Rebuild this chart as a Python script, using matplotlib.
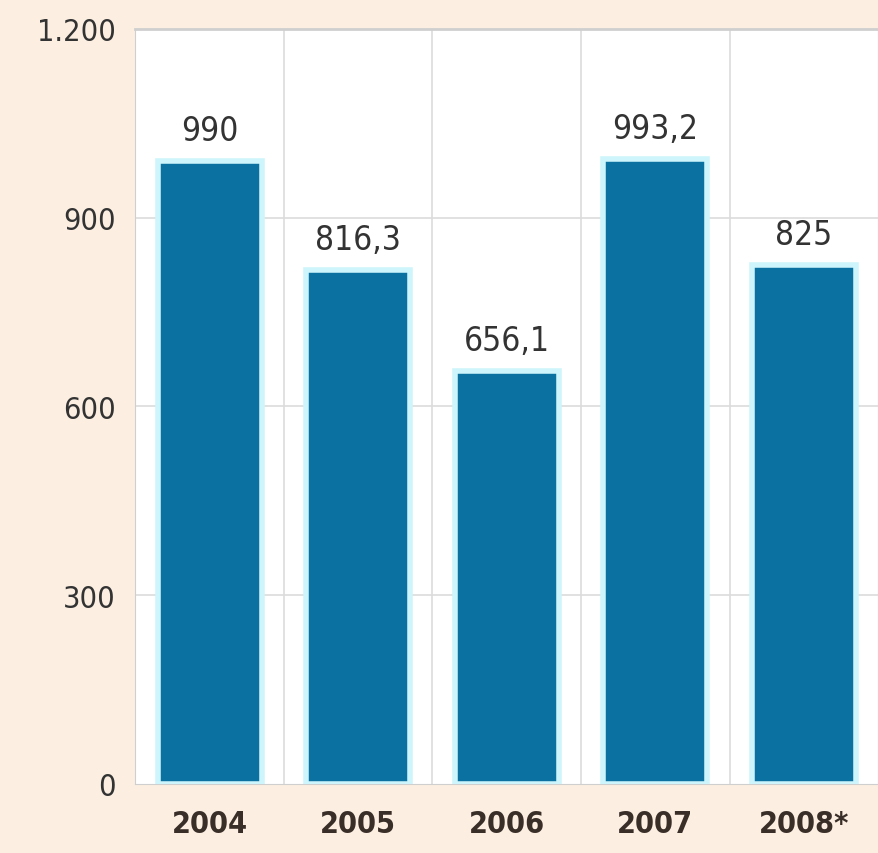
import matplotlib
matplotlib.use("Agg")
import matplotlib.pyplot as plt

# dati del grafico
anni = ["2004", "2005", "2006", "2007", "2008*"]
valori = [990, 816.3, 656.1, 993.2, 825]
etichette = ["990", "816,3", "656,1", "993,2", "825"]
yticks = [0, 300, 600, 900, 1200]
ytick_lab = ["0", "300", "600", "900", "1.200"]

plt.rcParams["font.family"] = ["DejaVu Sans"]
plt.rcParams["font.stretch"] = "condensed"

fig = plt.figure(figsize=(8.79, 8.54), dpi=100, facecolor="#fcefe2")
ax = fig.add_axes([0.154, 0.081, 0.845, 0.884])
ax.set_facecolor("white")

x = range(len(anni))
ax.bar(x, valori, width=0.70, color="#0b71a0", edgecolor="#cdf5fb",
       linewidth=4, zorder=3)

# etichette dei valori sopra le barre
for i, v in enumerate(valori):
    ax.text(i, v + 22, etichette[i], ha="center", va="bottom",
            fontsize=24, color="#333333", zorder=4)

ax.set_xlim(-0.5, 4.5)
ax.set_ylim(0, 1200)
ax.set_yticks(yticks)
ax.set_yticklabels(ytick_lab, fontsize=22, color="#333333")
ax.set_xticks(list(x))
ax.set_xticklabels(anni, fontsize=22, color="#3a2e28", fontweight="bold")
ax.tick_params(length=0, pad=14)
ax.tick_params(axis="x", pad=18)

# griglia
for k in [0.5, 1.5, 2.5, 3.5]:
    ax.axvline(k, color="#dcdcdc", linewidth=1.2, zorder=1)
for t in [300, 600, 900]:
    ax.axhline(t, color="#dcdcdc", linewidth=1.2, zorder=1)

for s in ["top", "right", "left", "bottom"]:
    ax.spines[s].set_color("#cfcfcf")
ax.spines["top"].set_linewidth(2)

fig.savefig("out.png", dpi=100, facecolor=fig.get_facecolor())
